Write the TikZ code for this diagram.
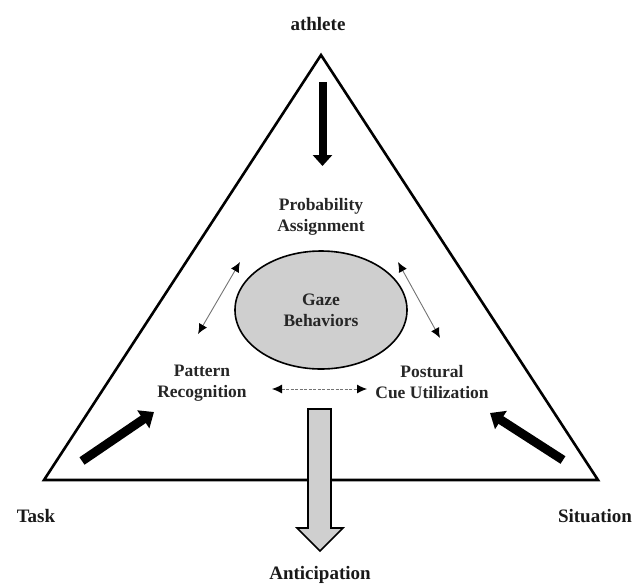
\documentclass[tikz,border=0pt]{standalone}
\usepackage{fontspec}
\setmainfont{Liberation Serif}
\usetikzlibrary{arrows.meta,shapes.geometric}
\tikzset{
  outerlabel/.style={font=\bfseries\fontsize{19}{21}\selectfont, inner sep=0pt, text=black!90},
  innerlabel/.style={font=\bfseries\fontsize{17.5}{21}\selectfont, inner sep=0pt, align=center, text=black!85},
  thinarrow/.style={draw=black!55, line width=0.9pt, {Latex[length=10pt,width=9pt,black]}-{Latex[length=10pt,width=9pt,black]}},
  boldarrow/.style={draw=black, line width=9pt, -{Triangle[length=13pt,width=21pt]}},
  tri/.style={draw=black, line width=2.6pt, line join=miter},
  graybody/.style={draw=black, line width=1.6pt, fill=black!19}
}
\begin{document}
\begin{tikzpicture}[x=1pt,y=-1pt]
\useasboundingbox (0,0) rectangle (634,587);
% corners
\coordinate (apex) at (321,55);
\coordinate (left) at (44,480);
\coordinate (right) at (598,480);
\draw[tri] (apex) -- (left) -- (right) -- cycle;

% labels
\node[outerlabel] (athlete) at (318,24) {athlete};
\node[outerlabel] (task) at (36,516) {Task};
\node[outerlabel] (situation) at (595,516) {Situation};
\node[outerlabel] (anticipation) at (320,575) {Anticipation};

% gaze ellipse
\node[graybody, ellipse, minimum width=172pt, minimum height=118pt, inner sep=0pt] (gaze) at (321,310) {};
\node[innerlabel] (gazetext) at (321,310) {Gaze\\Behaviors};

\node[innerlabel] (prob) at (321,217) {Probability\\Assignment};
\node[innerlabel] (pattern) at (202,383) {Pattern\\Recognition};
\node[innerlabel] (postural) at (432,382) {Postural\\Cue Utilization};

% thin double arrows
\coordinate (la1) at (240,262);
\coordinate (la2) at (198,334);
\coordinate (ra1) at (398,262);
\coordinate (ra2) at (440,338);
\coordinate (ha1) at (272,389);
\coordinate (ha2) at (367,389);
\draw[thinarrow] (la1) -- (la2);
\draw[thinarrow] (ra1) -- (ra2);
\draw[thinarrow, dash pattern=on 3pt off 1.5pt] (ha1) -- (ha2);

% bold arrows
\coordinate (at1) at (322.5,82);
\coordinate (at2) at (322.5,166);
\draw[boldarrow, line width=8pt, -{Triangle[length=11pt,width=19pt]}] (at1) -- (at2);
\coordinate (tt1) at (82,461);
\coordinate (tt2) at (154,412);
\draw[boldarrow] (tt1) -- (tt2);
\coordinate (st1) at (563,460);
\coordinate (st2) at (490,413);
\draw[boldarrow] (st1) -- (st2);

% anticipation arrow
\draw[graybody, line join=miter] (308,409) -- (331,409) -- (331,528) -- (343,528) -- (320,551) -- (297,528) -- (308,528) -- cycle;
\end{tikzpicture}
\end{document}
